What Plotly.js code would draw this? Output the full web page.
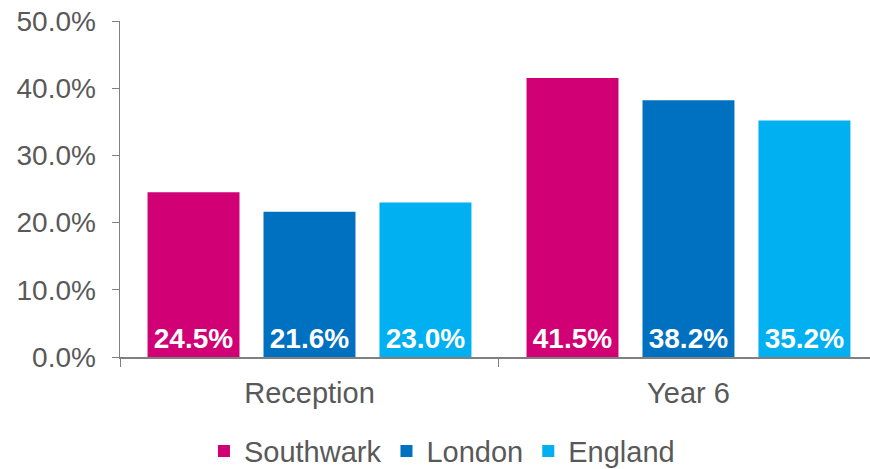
<!DOCTYPE html>
<html><head><meta charset="utf-8">
<script src="https://cdn.plot.ly/plotly-3.0.1.min.js"></script>
<style>body{margin:0;}#c{width:870px;height:469px;}</style>
</head><body><div id="c"></div>
<script>
const categories = ["Reception", "Year 6"];
const seriesNames = ["Southwark", "London", "England"];
const southwark = [24.5, 41.5];
const london = [21.6, 38.2];
const england = [23.0, 35.2];
const colors = ["#D10074", "#0070C0", "#00B0F0"];
const allValues = [southwark, london, england];

const grey = "#595959";
const fam = "'Liberation Sans', Arial, sans-serif";
const traces = allValues.map((vals, i) => ({
  type: "bar",
  name: seriesNames[i],
  x: categories,
  y: vals,
  marker: {color: colors[i]},
  texttemplate: "%{y:.1f}%",
  textposition: "inside",
  insidetextanchor: "start",
  textangle: 0,
  constraintext: "none",
  textfont: {family: fam, size: 28, color: "#ffffff", weight: "bold"},
  hoverinfo: "skip"
}));

const layout = {
  width: 870, height: 469,
  margin: {l: 120, r: 0, t: 21, b: 112},
  paper_bgcolor: "#ffffff", plot_bgcolor: "#ffffff",
  barmode: "group",
  bargap: 0.082,
  bargroupgap: 0.207,
  font: {family: fam, color: grey, size: 28},
  showlegend: true,
  legend: {orientation: "h", xref: "container", yref: "container",
           x: 0.508, xanchor: "center", y: 0.038, yanchor: "middle",
           font: {family: fam, size: 29, color: grey}, tracegroupgap: 0},
  xaxis: {
    range: [-0.5, 1.479],
    showline: true, linecolor: "#808080", linewidth: 1.5,
    ticks: "outside", tickson: "boundaries", ticklen: 8, tickcolor: "#808080",
    ticklabelstandoff: 10,
    tickfont: {family: fam, size: 29, color: grey},
    showgrid: false, zeroline: false, automargin: false
  },
  yaxis: {
    range: [0, 50], dtick: 10, tickformat: ".1f", ticksuffix: "%",
    showline: true, linecolor: "#808080", linewidth: 1.5,
    ticks: "outside", ticklen: 7, tickcolor: "#808080",
    ticklabelstandoff: 10,
    tickfont: {family: fam, size: 28, color: grey},
    showgrid: false, zeroline: false, automargin: false
  }
};
Plotly.newPlot("c", traces, layout, {displayModeBar: false, staticPlot: true});
</script>
</body></html>
